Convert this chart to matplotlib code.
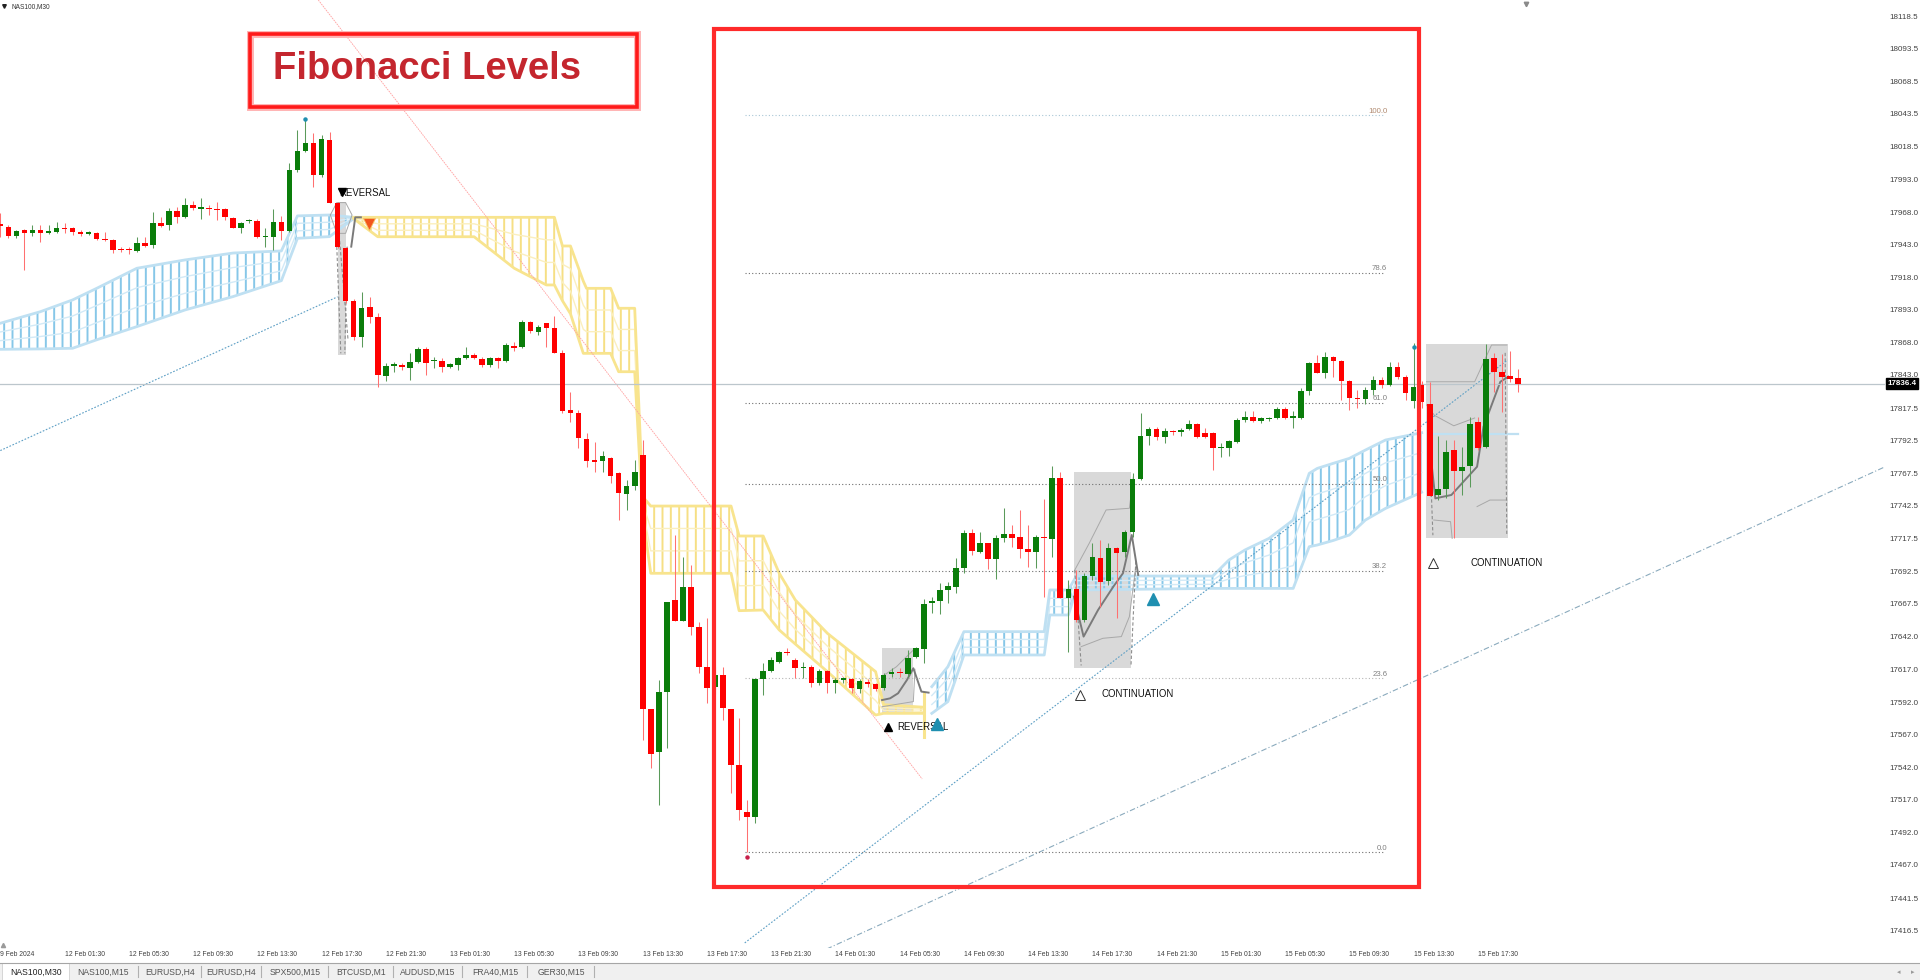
import matplotlib.pyplot as plt
import numpy as np
from matplotlib.patches import Rectangle
from matplotlib.lines import Line2D
from matplotlib.transforms import blended_transform_factory

plt.rcParams['font.family'] = ['Liberation Sans', 'DejaVu Sans']
plt.rcParams['hatch.linewidth'] = 1.4

# ---- NAS100 M30 candles (bar index 0..189) ----
opens = [
    17958.7, 17956.9, 17949.7, 17954.3, 17951.8, 17954.3, 17952.3, 17953.0, 17955.8, 17955.6,
    17953.0, 17951.5, 17951.8, 17947.4, 17946.6, 17939.2, 17939.2, 17938.4, 17944.6, 17942.8,
    17959.9, 17958.1, 17968.9, 17964.5, 17973.5, 17970.7, 17971.5, 17970.4, 17970.4, 17963.8,
    17956.1, 17961.0, 17961.5, 17948.9, 17949.2, 17960.7, 17953.5, 18000.4, 18014.9, 18020.8,
    17996.5, 18023.4, 17975.3, 17940.3, 17900.1, 17872.4, 17895.0, 17887.5, 17842.2, 17850.2,
    17850.4, 17848.6, 17853.2, 17862.7, 17853.5, 17854.0, 17849.4, 17850.7, 17855.8, 17858.3,
    17855.3, 17850.7, 17855.8, 17853.7, 17865.5, 17864.7, 17883.4, 17876.2, 17882.6, 17879.3,
    17859.6, 17816.1, 17814.1, 17793.9, 17777.0, 17776.7, 17779.5, 17767.5, 17751.4, 17757.8,
    17781.6, 17586.4, 17553.6, 17599.4, 17670.3, 17654.4, 17680.5, 17649.3, 17619.1, 17603.8,
    17612.8, 17586.4, 17543.7, 17507.5, 17504.0, 17609.4, 17616.1, 17623.0, 17630.4, 17624.3,
    17618.2, 17619.1, 17606.9, 17615.8, 17606.3, 17609.2, 17609.4, 17602.2, 17607.6, 17605.6,
    17602.5, 17613.8, 17614.7, 17613.3, 17626.8, 17632.4, 17667.7, 17669.5, 17678.0, 17680.5,
    17695.1, 17721.5, 17707.4, 17714.3, 17701.8, 17718.1, 17720.7, 17718.4, 17709.4, 17707.4,
    17718.9, 17716.8, 17763.7, 17671.6, 17678.7, 17655.0, 17689.0, 17702.8, 17684.9, 17710.5,
    17706.9, 17722.7, 17762.9, 17796.4, 17801.5, 17795.6, 17800.0, 17798.9, 17801.3, 17805.4,
    17798.2, 17798.2, 17786.7, 17786.7, 17791.8, 17808.4, 17810.5, 17807.9, 17808.9, 17810.2,
    17816.9, 17810.3, 17810.2, 17830.7, 17852.4, 17844.8, 17857.0, 17853.7, 17838.6, 17825.1,
    17824.3, 17831.4, 17839.1, 17835.3, 17849.4, 17841.7, 17823.0, 17835.0, 17820.7, 17750.9,
    17755.2, 17785.4, 17769.5, 17773.1, 17807.1, 17787.4, 17855.8, 17845.5, 17842.5, 17840.4,
]
highs = [
    17967.1, 17958.1, 17954.3, 17955.1, 17958.1, 17958.1, 17958.1, 17960.2, 17959.4, 17956.9,
    17954.3, 17953.5, 17953.0, 17952.5, 17947.1, 17941.0, 17941.0, 17948.7, 17949.2, 17968.4,
    17964.0, 17970.9, 17972.2, 17978.6, 17976.8, 17978.6, 17973.5, 17976.1, 17970.9, 17964.5,
    17960.7, 17962.5, 17962.5, 17955.6, 17970.4, 17965.1, 18005.5, 18031.1, 18040.5, 18028.5,
    18027.2, 18029.8, 17976.1, 17941.5, 17901.0, 17907.0, 17902.6, 17890.4, 17852.0, 17853.2,
    17852.0, 17859.6, 17864.7, 17864.7, 17857.0, 17855.8, 17852.5, 17857.0, 17864.7, 17859.5,
    17856.5, 17856.5, 17857.0, 17867.3, 17868.6, 17885.2, 17884.7, 17881.4, 17882.6, 17888.3,
    17862.2, 17830.2, 17816.1, 17798.2, 17791.8, 17784.7, 17780.3, 17768.8, 17762.4, 17777.8,
    17793.1, 17586.4, 17608.9, 17669.0, 17720.2, 17703.6, 17697.2, 17653.7, 17656.2, 17619.0,
    17619.1, 17586.4, 17579.5, 17516.8, 17610.2, 17621.7, 17626.8, 17631.5, 17633.2, 17625.5,
    17623.0, 17620.4, 17617.0, 17616.6, 17610.2, 17611.5, 17610.2, 17609.4, 17609.4, 17606.9,
    17614.0, 17617.9, 17617.9, 17631.9, 17634.5, 17670.8, 17672.9, 17683.6, 17684.4, 17702.3,
    17724.0, 17724.5, 17722.2, 17714.3, 17720.2, 17740.7, 17727.9, 17739.4, 17727.9, 17720.2,
    17747.6, 17773.1, 17768.8, 17685.6, 17693.3, 17690.8, 17713.8, 17716.3, 17713.8, 17711.2,
    17724.0, 17767.5, 17813.6, 17803.3, 17803.0, 17802.0, 17801.0, 17802.0, 17808.4, 17805.9,
    17802.0, 17799.5, 17790.5, 17793.1, 17809.7, 17815.3, 17815.3, 17810.5, 17811.0, 17818.1,
    17818.1, 17815.6, 17832.7, 17853.2, 17858.3, 17860.9, 17857.5, 17854.5, 17839.1, 17831.4,
    17833.5, 17842.2, 17841.7, 17853.2, 17853.2, 17843.0, 17867.3, 17838.0, 17837.8, 17796.1,
    17793.1, 17793.1, 17788.0, 17810.5, 17811.0, 17866.8, 17859.6, 17859.1, 17861.6, 17847.3,
]
lows = [
    17949.2, 17947.9, 17947.9, 17923.6, 17949.7, 17944.8, 17951.0, 17951.8, 17951.8, 17950.5,
    17950.0, 17950.5, 17946.6, 17946.1, 17936.4, 17937.7, 17935.6, 17937.7, 17941.0, 17940.3,
    17956.4, 17954.3, 17959.9, 17963.3, 17969.7, 17962.8, 17965.8, 17962.0, 17962.0, 17955.6,
    17951.8, 17959.9, 17947.9, 17941.5, 17938.9, 17946.6, 17953.0, 17999.1, 18014.4, 17987.6,
    17995.2, 17974.8, 17940.3, 17898.0, 17870.0, 17864.8, 17882.7, 17834.1, 17838.0, 17845.5,
    17847.0, 17839.2, 17852.5, 17843.0, 17848.1, 17845.6, 17848.1, 17846.8, 17855.0, 17855.3,
    17849.4, 17849.4, 17848.1, 17853.2, 17861.4, 17863.5, 17875.0, 17873.7, 17864.7, 17859.6,
    17814.1, 17807.2, 17786.7, 17772.6, 17768.8, 17768.8, 17760.3, 17731.7, 17739.4, 17754.7,
    17562.9, 17541.1, 17513.0, 17556.5, 17654.4, 17654.4, 17643.4, 17614.0, 17591.0, 17598.0,
    17578.2, 17521.9, 17501.4, 17476.6, 17498.9, 17597.4, 17615.3, 17622.0, 17628.1, 17610.2,
    17610.2, 17603.8, 17605.0, 17598.7, 17599.2, 17606.3, 17598.7, 17599.2, 17603.3, 17600.7,
    17601.2, 17611.4, 17611.4, 17611.4, 17625.5, 17621.7, 17660.1, 17659.3, 17667.7, 17675.4,
    17690.8, 17704.8, 17706.1, 17693.8, 17686.2, 17715.1, 17711.2, 17702.3, 17695.9, 17694.6,
    17672.9, 17703.6, 17671.6, 17630.6, 17653.7, 17653.7, 17685.6, 17665.2, 17681.8, 17656.2,
    17703.6, 17718.9, 17762.4, 17789.2, 17793.0, 17790.5, 17797.0, 17796.1, 17800.7, 17794.3,
    17794.3, 17770.0, 17780.3, 17780.8, 17790.5, 17807.1, 17807.1, 17806.4, 17808.0, 17808.9,
    17808.9, 17802.0, 17808.9, 17827.6, 17844.2, 17840.4, 17841.7, 17823.8, 17816.1, 17817.4,
    17820.7, 17827.6, 17832.7, 17834.5, 17839.6, 17823.8, 17817.4, 17818.0, 17750.1, 17747.0,
    17748.3, 17717.6, 17750.9, 17757.3, 17785.4, 17786.7, 17830.2, 17814.8, 17837.8, 17830.2,
]
closes = [
    17957.6, 17949.7, 17953.5, 17951.8, 17954.3, 17952.3, 17952.8, 17956.1, 17955.1, 17952.5,
    17951.0, 17952.0, 17947.4, 17946.6, 17938.9, 17938.7, 17938.7, 17944.1, 17942.0, 17959.4,
    17957.4, 17968.9, 17964.5, 17973.5, 17970.9, 17971.2, 17970.4, 17969.7, 17964.0, 17956.1,
    17959.9, 17961.5, 17948.7, 17949.4, 17960.7, 17953.5, 18000.4, 18014.9, 18020.8, 17996.5,
    18023.9, 17975.3, 17941.5, 17900.1, 17872.4, 17894.2, 17887.5, 17843.0, 17849.9, 17850.6,
    17849.4, 17853.2, 17862.7, 17852.5, 17853.9, 17849.4, 17851.2, 17855.8, 17858.3, 17856.3,
    17850.7, 17855.8, 17854.0, 17866.0, 17864.0, 17883.4, 17877.0, 17879.6, 17878.8, 17860.1,
    17815.6, 17813.6, 17794.4, 17777.2, 17776.5, 17780.8, 17765.7, 17752.2, 17757.8, 17768.3,
    17586.4, 17551.8, 17599.4, 17669.0, 17654.4, 17680.5, 17649.8, 17619.1, 17602.5, 17612.8,
    17587.2, 17543.7, 17509.1, 17503.4, 17609.4, 17615.8, 17624.3, 17630.4, 17629.8, 17617.9,
    17618.6, 17606.3, 17615.8, 17606.3, 17608.9, 17609.6, 17602.5, 17608.1, 17605.6, 17602.2,
    17612.5, 17614.2, 17614.3, 17626.0, 17633.2, 17667.0, 17669.5, 17678.0, 17681.3, 17695.1,
    17721.5, 17707.9, 17713.8, 17701.8, 17718.1, 17720.7, 17718.1, 17709.4, 17707.4, 17718.9,
    17717.6, 17763.7, 17671.6, 17678.7, 17655.0, 17689.0, 17703.6, 17684.4, 17710.0, 17706.6,
    17722.2, 17762.9, 17796.4, 17801.3, 17795.6, 17800.0, 17799.0, 17800.7, 17805.4, 17795.1,
    17795.1, 17786.7, 17787.1, 17792.3, 17808.4, 17810.5, 17807.9, 17809.7, 17810.2, 17816.9,
    17809.7, 17810.7, 17830.7, 17852.4, 17844.8, 17857.0, 17853.7, 17838.4, 17825.6, 17824.3,
    17831.4, 17839.1, 17835.3, 17849.4, 17841.7, 17828.9, 17834.0, 17822.0, 17750.1, 17755.2,
    17784.1, 17769.5, 17772.6, 17805.4, 17786.7, 17855.2, 17845.0, 17841.7, 17839.9, 17836.4,
]

current_price = 17836.4

time_labels = ["9 Feb 2024", "12 Feb 01:30", "12 Feb 05:30", "12 Feb 09:30", "12 Feb 13:30",
               "12 Feb 17:30", "12 Feb 21:30", "13 Feb 01:30", "13 Feb 05:30", "13 Feb 09:30",
               "13 Feb 13:30", "13 Feb 17:30", "13 Feb 21:30", "14 Feb 01:30", "14 Feb 05:30",
               "14 Feb 09:30", "14 Feb 13:30", "14 Feb 17:30", "14 Feb 21:30", "15 Feb 01:30",
               "15 Feb 05:30", "15 Feb 09:30", "15 Feb 13:30", "15 Feb 17:30"]
time_bars = [0, 8, 16, 24, 32, 40, 48, 56, 64, 72, 80, 88, 96, 104, 112, 120, 128,
             136, 144, 152, 160, 168, 176, 184]

price_ticks = [18118.5, 18093.5, 18068.5, 18043.5, 18018.5, 17993.0, 17968.0, 17943.0,
               17918.0, 17893.0, 17868.0, 17843.0, 17817.5, 17792.5, 17767.5, 17742.5,
               17717.5, 17692.5, 17667.5, 17642.0, 17617.0, 17592.0, 17567.0, 17542.0,
               17517.0, 17492.0, 17467.0, 17441.5, 17416.5]

# ---- Fibonacci retracement ----
fib_levels = [100.0, 78.6, 61.0, 50.0, 38.2, 23.6, 0.0]
fib_high = 18042.4
fib_low = 17476.6
fib_from, fib_to = 92.7, 172.3

# ---- Ichimoku cloud outlines (bar, upper span, lower span) ----
blue1_k = [0, 5, 9, 12, 17, 23, 29, 35, 37, 41, 44]
blue1_top = [17882.7, 17891.6, 17900.6, 17909.5, 17924.9, 17931.3, 17936.6, 17938.2, 17965.1, 17965.8, 17964.0]
blue1_bot = [17862.7, 17863.0, 17863.5, 17870.0, 17880.1, 17892.9, 17903.2, 17915.4, 17947.9, 17949.2, 17963.0]

yellow_k = [44, 47, 59, 64, 68, 69, 70, 71, 72.6, 73, 76, 77, 79, 80, 81, 91, 92, 95, 97, 99, 103, 109, 110, 115]
yellow_top = [17964.0, 17964.0, 17964.0, 17964.0, 17964.0, 17964.0, 17942.0, 17942.0, 17915.0, 17909.5,
              17909.5, 17894.2, 17894.2, 17749.6, 17742.4, 17742.4, 17719.4, 17719.4, 17690.8, 17670.3,
              17644.7, 17615.3, 17590.0, 17588.0]
yellow_bot = [17963.0, 17949.1, 17949.1, 17924.9, 17912.1, 17912.1, 17900.0, 17890.0, 17859.6, 17859.6,
              17859.6, 17845.5, 17845.5, 17735.0, 17690.8, 17690.8, 17662.1, 17662.6, 17647.3, 17636.5,
              17615.3, 17582.0, 17583.3, 17583.3]

blue2_k = [116, 118, 120, 130, 130.7, 133, 134, 151, 153, 155, 158, 161, 163, 164, 166, 168, 170, 172.5, 177]
blue2_top = [17603.8, 17619.1, 17646.0, 17646.0, 17678.0, 17678.0, 17688.7, 17688.7, 17701.0, 17708.7,
             17717.6, 17731.7, 17767.5, 17771.3, 17775.2, 17779.0, 17785.4, 17793.1, 17798.7]
blue2_bot = [17583.3, 17592.3, 17628.1, 17628.1, 17658.8, 17658.8, 17678.0, 17679.2, 17679.2, 17679.2,
             17679.2, 17679.2, 17711.2, 17712.5, 17716.0, 17720.2, 17731.7, 17740.6, 17753.0]
span_after = 17797.7

# ---- pattern boxes: (bar from, bar to, low, high) ----
pattern_boxes = [(42.0, 43.0, 17858.3, 17976.0), (109.8, 113.7, 17583.6, 17633.5),
                 (133.7, 140.8, 17618.1, 17768.8), (177.6, 187.7, 17717.7, 17866.8)]
pattern_dark = [
    [(43.7, 17941.5), (44.2, 17964.0), (44.9, 17964.0)],
    [(109.8, 17593.5), (110.8, 17594.8), (111.8, 17598.7), (112.9, 17608.9), (113.7, 17617.9), (114.7, 17600.0), (115.6, 17599.2)],
    [(133.7, 17672.9), (134.9, 17642.2), (136.7, 17662.6), (138.6, 17680.5), (139.8, 17690.8), (140.9, 17720.2), (141.7, 17689.5)],
    [(178.0, 17788.0), (178.7, 17748.3), (180.7, 17750.9), (183.9, 17772.6), (184.7, 17803.3), (186.8, 17837.8), (187.8, 17841.7)],
]
pattern_thin = [
    [(41.1, 17965.8), (41.9, 17975.3), (43.0, 17975.3), (43.8, 17965.8), (43.0, 17951.7), (41.9, 17951.7), (41.1, 17965.8)],
    [(109.8, 17588.4), (113.7, 17592.3), (113.9, 17617.1)],
    [(109.8, 17611.5), (111.6, 17619.1), (113.7, 17631.9)],
    [(134.6, 17634.5), (137.3, 17640.9), (139.6, 17642.2), (140.6, 17657.5), (141.4, 17695.9)],
    [(133.8, 17693.3), (135.6, 17713.8), (137.7, 17739.4), (140.6, 17740.7), (141.1, 17765.0)],
    [(177.6, 17837.8), (183.6, 17837.8), (185.7, 17866.0), (187.6, 17866.0)],
    [(183.9, 17742.0), (185.5, 17747.0), (187.6, 17747.0)],
    [(178.5, 17731.7), (180.6, 17730.4), (180.8, 17717.6)],
    [(177.6, 17820.0), (178.6, 17812.0), (181.0, 17804.0), (183.6, 17810.0)],
]
pattern_dashed = [
    [(41.9, 17941.5), (42.4, 17859.6)], [(43.2, 17941.5), (42.9, 17859.6)], [(42.2, 17950.0), (43.3, 17870.0)],
    [(133.8, 17693.3), (134.6, 17620.0)], [(141.4, 17700.0), (140.8, 17620.0)],
    [(177.8, 17820.0), (178.4, 17720.0)], [(187.4, 17860.0), (187.6, 17720.0)],
]

# ---- trend lines ((bar, price), (bar, price)) ----
red_diag = [(39.6, 18130.8), (114.8, 17532.9)]
blue_trend1 = [(0.0, 17785.0), (42.0, 17903.0)]
blue_trend2 = [(92.7, 17407.1), (187.7, 17854.5)]
grey_trend = [(102.9, 17402.4), (234.8, 17772.8)]

# ---- signals ----
sig_text = [(42.2, 17983.0, "REVERSAL"), (111.7, 17572.5, "REVERSAL"),
            (137.1, 17597.8, "CONTINUATION"), (183.1, 17698.4, "CONTINUATION")]
sig_down_black = [(42.5, 17983.5)]
sig_up_black = [(110.5, 17572.5)]
sig_up_open = [(134.5, 17597.0), (178.4, 17698.5)]
sig_orange = [(45.9, 17958.9)]
sig_teal = [(116.6, 17575.3), (143.6, 17671.2)]
teal_dots = [(38, 18039.5), (176, 17864.2)]
red_dots = [(93, 17472.8)]

fib_box = (88.9, 176.7, 17450.0, 18108.5)

tab_names = ["NAS100,M30", "NAS100,M15", "EURUSD,H4", "EURUSD,H4", "SPX500,M15",
             "BTCUSD,M1", "AUDUSD,M15", "FRA40,M15", "GER30,M15"]

# ================= drawing =================
W, H = 1920, 980
fig = plt.figure(figsize=(19.2, 9.8), dpi=100)
fig.patch.set_facecolor('white')
ax = fig.add_axes([0, 32 / H, 1885 / W, 948 / H])
ax.set_xlim(-0.04, 234.7)
ax.set_ylim(17403.2, 18130.8)
for s in ax.spines.values():
    s.set_visible(False)

# pattern boxes (background)
for x0, x1, y0, y1 in pattern_boxes:
    ax.add_patch(Rectangle((x0, y0), x1 - x0, y1 - y0, facecolor='#d9d9d9', edgecolor='none', zorder=1))


def draw_cloud(ks, top, bot, edge, hatch_c, inner):
    ks = np.array(ks); top = np.array(top); bot = np.array(bot)
    ax.fill_between(ks, bot, top, facecolor='none', edgecolor=hatch_c, hatch='||', linewidth=0, zorder=2)
    for f in (1 / 3, 2 / 3):
        ax.plot(ks, bot + (top - bot) * f, color=inner, lw=1.0, zorder=2)
    ax.plot(ks, top, color=edge, lw=2.0, zorder=2, solid_joinstyle='round')
    ax.plot(ks, bot, color=edge, lw=2.0, zorder=2, solid_joinstyle='round')


draw_cloud(blue1_k, blue1_top, blue1_bot, '#bfe0f2', '#86c7e8', '#d2eaf7')
draw_cloud(yellow_k, yellow_top, yellow_bot, '#f8e48e', '#f6df84', '#fbefbe')
draw_cloud(blue2_k, blue2_top, blue2_bot, '#bfe0f2', '#86c7e8', '#d2eaf7')
ax.plot([115, 115], [17598.7, 17565.4], color='#f8e48e', lw=2.2, zorder=2)
ax.plot([178, 189], [span_after, span_after], color='#bfe0f2', lw=1.6, zorder=2)

# pattern lines
for pts in pattern_thin:
    p = np.array(pts)
    ax.plot(p[:, 0], p[:, 1], color='#a8a8a8', lw=0.7, zorder=3)
for pts in pattern_dashed:
    p = np.array(pts)
    ax.plot(p[:, 0], p[:, 1], color='#8c8c8c', lw=0.8, ls=(0, (3, 2)), zorder=3)
for pts in pattern_dark:
    p = np.array(pts)
    ax.plot(p[:, 0], p[:, 1], color='#7a7a7a', lw=1.4, zorder=3)

# trend lines
ax.plot(*zip(*red_diag), color='#ffa0a0', lw=0.6, ls=(0, (2, 1)), zorder=3)
ax.plot(*zip(*blue_trend1), color='#5b9ec4', lw=0.8, ls=(0, (1.5, 1.5)), zorder=3)
ax.plot(*zip(*blue_trend2), color='#5b9ec4', lw=0.8, ls=(0, (1.5, 1.5)), zorder=3)
ax.plot(*zip(*grey_trend), color='#8aaabd', lw=0.8, ls=(0, (5, 2, 1, 2)), zorder=3)

# current price line
ax.axhline(current_price, color='#bcc6cc', lw=0.9, zorder=3)

# fibonacci
fib_range = fib_high - fib_low
for lvl in fib_levels:
    p = fib_low + fib_range * lvl / 100.0
    col = '#a9c6d6' if lvl == 100.0 else ('#b5b5b5' if lvl == 23.6 else '#707070')
    ax.hlines(p, fib_from, fib_to, colors=col, lw=0.8, linestyles=(0, (1, 2)), zorder=3)
    ax.text(fib_to + 0.4, p + 3.2, f"{lvl:.1f}", ha='right', va='center', fontsize=5.6,
            color='#808080' if lvl != 100.0 else '#b08a70', zorder=6)

# candles
o = np.array(opens); c = np.array(closes); h = np.array(highs); l = np.array(lows)
x = np.arange(len(o))
up = c >= o
body_col = np.where(up, '#0a7d0a', '#ff0000')
wick_col = np.where(up, '#5a9a5a', '#ff7070')
ax.vlines(x, l, h, colors=wick_col, linewidth=0.75, zorder=4)
ax.bar(x, np.maximum(np.abs(c - o), 0.9), bottom=np.minimum(o, c), width=0.7,
       color=body_col, linewidth=0, zorder=5)

# signals
for bx, py in sig_down_black:
    ax.plot(bx, py, marker='v', color='black', ms=5.5, zorder=7)
for bx, py in sig_up_black:
    ax.plot(bx, py, marker='^', color='black', ms=5.5, zorder=7)
for bx, py in sig_up_open:
    ax.plot(bx, py, marker='^', mfc='white', mec='#333333', mew=0.7, ms=6.5, zorder=7)
for bx, py in sig_orange:
    ax.plot(bx, py, marker='v', color='#f2561d', mec='#f7c060', mew=0.6, ms=8.5, zorder=7)
for bx, py in sig_teal:
    ax.plot(bx, py, marker='^', color='#1f8fb0', ms=8, zorder=7)
for bx, py in teal_dots:
    ax.plot(bx, py, marker='o', color='#1f8fb0', ms=2.2, zorder=7)
for bx, py in red_dots:
    ax.plot(bx, py, marker='o', color='#c8204a', ms=2.2, zorder=7)
for bx, py, t in sig_text:
    ax.text(bx, py, t, ha='left', va='center', fontsize=6.9, color='#111111', zorder=6)

# red frame around the fibonacci area
fx0, fx1, fy0, fy1 = fib_box
ax.add_patch(Rectangle((fx0, fy0), fx1 - fx0, fy1 - fy0, fill=False, edgecolor='#ff2a2a', lw=3.0, zorder=8))

# axes ticks
ax.yaxis.tick_right()
ax.set_yticks(price_ticks)
ax.set_yticklabels([f"{v:.1f}" for v in price_ticks])
ax.tick_params(axis='y', length=0, pad=3, labelsize=5.8, labelcolor='#404040')
ax.set_xticks(time_bars)
ax.set_xticklabels(time_labels, ha='left')
ax.tick_params(axis='x', length=0, pad=2, labelsize=4.9, labelcolor='#404040')

# current price box
tr = blended_transform_factory(ax.transAxes, ax.transData)
ax.text(1.0015, current_price, f"{current_price:.1f}", transform=tr, ha='left', va='center',
        fontsize=5.8, fontweight='bold', color='white', clip_on=False, zorder=9,
        bbox=dict(boxstyle='square,pad=0.2', fc='black', ec='black'))

# title box
fig.add_artist(Rectangle((250 / W, 1 - 107 / H), 387 / W, 73 / H, transform=fig.transFigure,
                         fill=False, edgecolor='#ffb3b3', lw=5.0))
fig.add_artist(Rectangle((250 / W, 1 - 107 / H), 387 / W, 73 / H, transform=fig.transFigure,
                         fill=False, edgecolor='#ff1a1a', lw=2.6))
fig.text(427 / W, 1 - 69 / H, "Fibonacci Levels", ha='center', va='center', fontsize=27.5,
         fontweight='bold', color='#c4262e')

# symbol caption top-left and small markers
fig.text(11 / W, 1 - 7 / H, "NAS100,M30", ha='left', va='center', fontsize=4.7, color='#333333')
fig.add_artist(Line2D([4 / W], [1 - 6 / H], marker='v', color='#222222', ms=2.6, transform=fig.transFigure))
fig.add_artist(Line2D([1526 / W], [1 - 4 / H], marker='v', color='#8a8a8a', ms=3.2, transform=fig.transFigure))
fig.add_artist(Line2D([3 / W], [1 - 945 / H], marker='^', color='#9a9a9a', ms=3, transform=fig.transFigure))

# tab strip
strip_h = 17 / H
fig.add_artist(Rectangle((0, 0), 1, strip_h, transform=fig.transFigure, fc='#f0f0f0', ec='none'))
fig.add_artist(Line2D([0, 1], [strip_h, strip_h], color='#a6a6a6', lw=0.8, transform=fig.transFigure))
fig.add_artist(Rectangle((2 / W, 0), 67 / W, strip_h, transform=fig.transFigure, fc='white', ec='#c8c8c8', lw=0.5))
tab_centers = [36, 103, 170, 231, 295, 361, 428, 495, 561]
tab_seps = [69, 138, 201, 261, 328, 393, 462, 527, 594]
for i, (name, cx) in enumerate(zip(tab_names, tab_centers)):
    fig.text(cx / W, 8 / H, name, ha='center', va='center', fontsize=6.2,
             color='#222222' if i == 0 else '#555555')
for sx in tab_seps[1:]:
    fig.add_artist(Line2D([sx / W, sx / W], [3 / H, 14 / H], color='#b0b0b0', lw=0.8, transform=fig.transFigure))
fig.text(1899 / W, 8 / H, "◂", ha='center', va='center', fontsize=5, color='#9a9a9a', family='DejaVu Sans')
fig.text(1913 / W, 8 / H, "▸", ha='center', va='center', fontsize=5, color='#9a9a9a', family='DejaVu Sans')

fig.savefig('out.png', dpi=100, facecolor='white')
